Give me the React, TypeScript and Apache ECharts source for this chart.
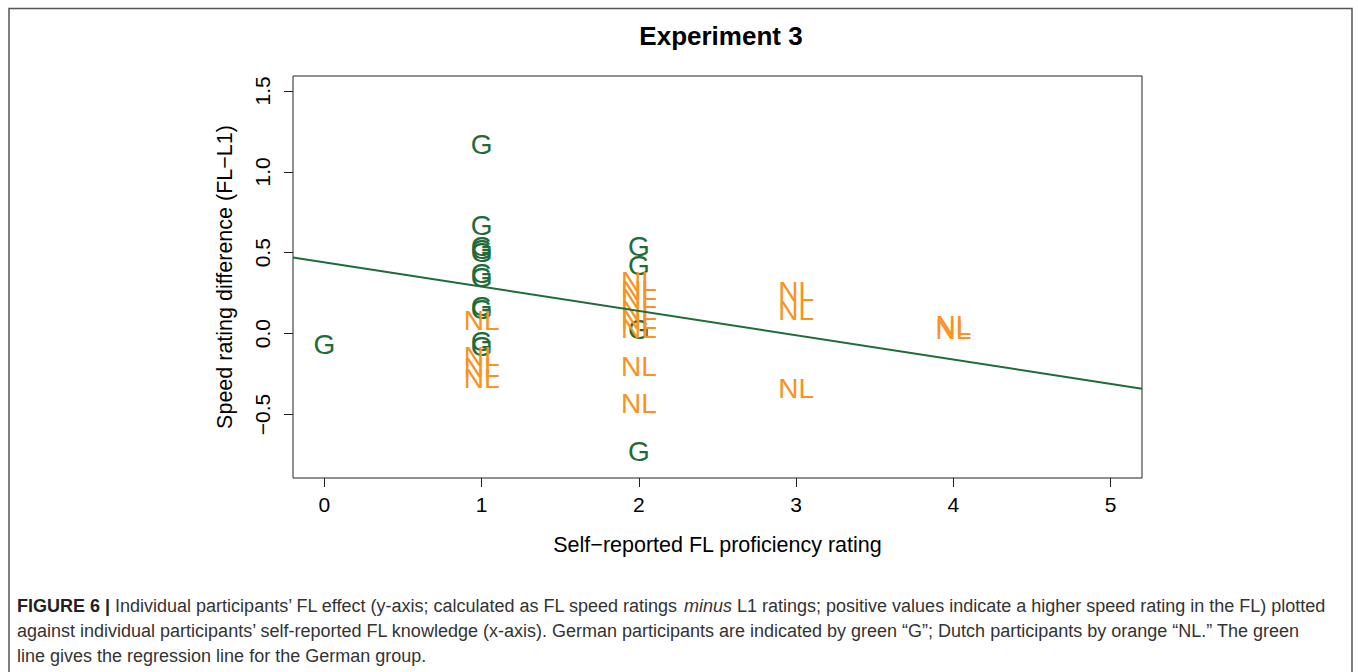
import React, { useEffect, useRef } from "react";
import * as echarts from "echarts";

// German participants ("G"): proficiency rating, speed rating difference
const germanX = [0, 1, 1, 1, 1, 1, 1, 1, 1, 1, 1, 1, 2, 2, 2, 2];
const germanY = [-0.07, 1.17, 0.67, 0.54, 0.52, 0.5, 0.37, 0.35, 0.17, 0.15, -0.05, -0.08, 0.54, 0.42, 0.025, -0.73];

// Dutch participants ("NL")
const dutchX = [1, 1, 1, 1, 2, 2, 2, 2, 2, 2, 2, 2, 3, 3, 3, 4, 4];
const dutchY = [0.08, -0.14, -0.21, -0.28, 0.32, 0.265, 0.215, 0.14, 0.09, 0.03, -0.2, -0.43, 0.26, 0.14, -0.34, 0.05, 0.025];

// Regression line for the German group (abline)
const regIntercept = 0.44;
const regSlope = -0.15;

const xTicks = [0, 1, 2, 3, 4, 5];
const yTicks = [-0.5, 0, 0.5, 1, 1.5];

const GREEN = "#1f6b3a";
const ORANGE = "#f7931e";
const FONT = "Liberation Sans, Arial, Helvetica, sans-serif";
const CAP = 18;

const fmtY = (v: number) => (v < 0 ? "\u2212" + Math.abs(v).toFixed(1) : v.toFixed(1));

export default function App() {
  const ref = useRef<HTMLDivElement>(null);
  useEffect(() => {
    document.body.style.margin = "0";
    const chart = echarts.init(ref.current!, null, { renderer: "svg" });
    const xMin = -0.2;
    const xMax = 5.2;
    const textSeries = (name: string, xs: number[], ys: number[], label: string, color: string) => ({
      type: "custom",
      name,
      clip: false,
      data: xs.map((x, i) => [x, ys[i]]),
      renderItem: (params: any, api: any) => {
        const p = api.coord([api.value(0), api.value(1)]);
        return {
          type: "text",
          x: p[0],
          y: p[1],
          style: {
            text: label,
            fill: color,
            fontSize: 28,
            fontFamily: FONT,
            align: "center",
            verticalAlign: "middle",
          },
        };
      },
    });
    chart.setOption({
      animation: false,
      backgroundColor: "#ffffff",
      title: {
        text: "Experiment 3",
        left: 716,
        top: 18,
        textAlign: "center",
        textStyle: { fontFamily: FONT, fontSize: 26, fontWeight: "bold", color: "#000" },
      },
      grid: {
        left: 293,
        right: 1358 - 1142,
        top: 76,
        bottom: 672 - 478,
        show: true,
        borderColor: "#222",
        borderWidth: 1,
        backgroundColor: "transparent",
      },
      xAxis: {
        type: "value",
        min: xMin,
        max: xMax,
        name: "Self\u2212reported FL proficiency rating",
        nameLocation: "middle",
        nameGap: 56,
        nameTextStyle: { fontFamily: FONT, fontSize: 21.5, color: "#000" },
        axisLine: { show: false, onZero: false },
        splitLine: { show: false },
        axisTick: { show: true, length: 9, customValues: xTicks, lineStyle: { color: "#222" } },
        axisLabel: {
          customValues: xTicks,
          margin: 16,
          fontFamily: FONT,
          fontSize: 21,
          color: "#000",
        },
      },
      yAxis: {
        type: "value",
        min: -0.892,
        max: 1.592,
        name: "Speed rating difference (FL\u2212L1)",
        nameLocation: "middle",
        nameRotate: 90,
        nameGap: 57,
        nameTextStyle: { fontFamily: FONT, fontSize: 21.5, color: "#000" },
        axisLine: { show: false, onZero: false },
        splitLine: { show: false },
        axisTick: { show: true, length: 9, customValues: yTicks, lineStyle: { color: "#222" } },
        axisLabel: {
          customValues: yTicks,
          rotate: 90,
          margin: 20,
          fontFamily: FONT,
          fontSize: 21,
          color: "#000",
          formatter: (v: number) => fmtY(v),
        },
      },
      series: [
        {
          type: "line",
          name: "regression",
          data: [
            [xMin, regIntercept + regSlope * xMin],
            [xMax, regIntercept + regSlope * xMax],
          ],
          symbol: "none",
          clip: true,
          lineStyle: { color: GREEN, width: 2 },
          silent: true,
        },
        textSeries("German", germanX, germanY, "G", GREEN),
        textSeries("Dutch", dutchX, dutchY, "NL", ORANGE),
      ],
      graphic: [
        {
          type: "rect",
          shape: { x: 9, y: 8.5, width: 1343, height: 700 },
          style: { fill: "none", stroke: "#555", lineWidth: 1.5 },
          silent: true,
        },
        {
          type: "text",
          x: 17,
          y: 606,
          style: {
            text:
              "{b|FIGURE 6 |} Individual participants\u2019 FL effect (y-axis; calculated as FL speed ratings {i|minus} L1 ratings; positive values indicate a higher speed rating in the FL) plotted",
            fontFamily: FONT,
            fontSize: CAP,
            fill: "#333",
            verticalAlign: "middle",
            rich: {
              b: { fontWeight: "bold", fontFamily: FONT, fontSize: CAP, fill: "#222" },
              i: { fontStyle: "italic", fontFamily: FONT, fontSize: CAP, fill: "#333" },
            },
          },
        },
        {
          type: "text",
          x: 17,
          y: 631,
          style: {
            text:
              "against individual participants\u2019 self-reported FL knowledge (x-axis). German participants are indicated by green \u201cG\u201d; Dutch participants by orange \u201cNL.\u201d The green",
            fontFamily: FONT,
            fontSize: CAP,
            fill: "#333",
            verticalAlign: "middle",
          },
        },
        {
          type: "text",
          x: 17,
          y: 656,
          style: {
            text: "line gives the regression line for the German group.",
            fontFamily: FONT,
            fontSize: CAP,
            fill: "#333",
            verticalAlign: "middle",
          },
        },
      ],
    });
    return () => chart.dispose();
  }, []);
  return <div ref={ref} style={{ width: 1358, height: 672 }} />;
}
